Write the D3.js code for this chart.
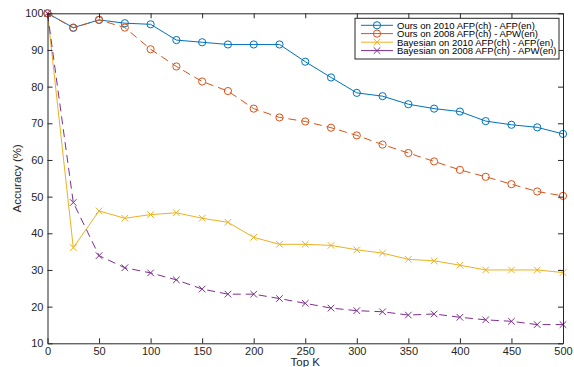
<!DOCTYPE html>
<html><head><meta charset="utf-8">
<script src="https://cdn.jsdelivr.net/npm/d3@7"></script>
<style>body{margin:0;background:#fff;}svg{display:block;font-family:"Liberation Sans",Arial,sans-serif;}</style>
</head><body><svg id="c" width="574" height="367"></svg>
<script>
const topK = [0,25,50,75,100,125,150,175,200,225,250,275,300,325,350,375,400,425,450,475,500];
const ours2010 = [100,96.1,98.2,97.3,97,92.7,92.1,91.5,91.5,91.5,86.8,82.5,78.3,77.4,75.2,74,73.2,70.6,69.6,68.9,67.1];
const ours2008 = [100,96,98.2,96.1,90.2,85.5,81.4,78.8,74,71.6,70.5,68.8,66.7,64.2,61.9,59.6,57.3,55.4,53.4,51.4,50.2];
const bayes2010 = [100,36.1,46.1,44.1,45.1,45.6,44.1,43,38.9,37,37,36.7,35.5,34.6,32.9,32.5,31.3,30,30,30,29.3];
const bayes2008 = [100,48.4,33.9,30.6,29.2,27.3,24.8,23.4,23.4,22.2,20.9,19.6,18.9,18.6,17.7,18,17.1,16.4,16,15.1,15.1];
const seriesNames = ["Ours on 2010 AFP(ch) - AFP(en)","Ours on 2008 AFP(ch) - APW(en)","Bayesian on 2010 AFP(ch) - AFP(en)","Bayesian on 2008 AFP(ch) - APW(en)"];
const xTicks = [0,50,100,150,200,250,300,350,400,450,500];
const yTicks = [10,20,30,40,50,60,70,80,90,100];

const series = [
  {name: seriesNames[0], values: ours2010, color:"#0072BD", dash:null, marker:"o"},
  {name: seriesNames[1], values: ours2008, color:"#D95319", dash:"8,5", marker:"o"},
  {name: seriesNames[2], values: bayes2010, color:"#EDB120", dash:null, marker:"x"},
  {name: seriesNames[3], values: bayes2008, color:"#7E2F8E", dash:"8,5", marker:"x"}
];

const svg = d3.select("#c");
const L=47.5, R=563, T=13.3, B=343.3;
const x = d3.scaleLinear().domain([0,500]).range([L,R]);
const y = d3.scaleLinear().domain([10,100]).range([B,T]);
const axCol = "#262626";

const line = d3.line().x((d,i)=>x(topK[i])).y(d=>y(d));
series.forEach(s=>{
  svg.append("path").datum(s.values).attr("d",line).attr("fill","none")
    .attr("stroke",s.color).attr("stroke-width",1).attr("stroke-dasharray",s.dash);
});
function drawMarker(g, cx, cy, s){
  if(s.marker==="o"){
    g.append("circle").attr("cx",cx).attr("cy",cy).attr("r",3.6).attr("fill","none").attr("stroke",s.color).attr("stroke-width",1);
  } else {
    const r=3.3;
    g.append("path").attr("d",`M${cx-r},${cy-r}L${cx+r},${cy+r}M${cx-r},${cy+r}L${cx+r},${cy-r}`).attr("stroke",s.color).attr("stroke-width",1).attr("fill","none");
  }
}
series.forEach(s=>{
  const g = svg.append("g");
  s.values.forEach((v,i)=>drawMarker(g,x(topK[i]),y(v),s));
});

// axes
const tl=5;
const gx = svg.append("g").attr("transform",`translate(0,${B})`)
  .call(d3.axisBottom(x).tickValues(xTicks).tickSizeInner(-tl).tickSizeOuter(0).tickPadding(4));
const gy = svg.append("g").attr("transform",`translate(${L},0)`)
  .call(d3.axisLeft(y).tickValues(yTicks).tickSizeInner(-tl).tickSizeOuter(0).tickPadding(4));
const gt = svg.append("g").attr("transform",`translate(0,${T})`)
  .call(d3.axisTop(x).tickValues(xTicks).tickSizeInner(-tl).tickSizeOuter(0).tickFormat(""));
const gr = svg.append("g").attr("transform",`translate(${R},0)`)
  .call(d3.axisRight(y).tickValues(yTicks).tickSizeInner(-tl).tickSizeOuter(0).tickFormat(""));
[gx,gy,gt,gr].forEach(g=>{
  g.selectAll("path,line").attr("stroke",axCol).attr("stroke-width",1);
  g.selectAll("text").attr("fill",axCol).style("font-size","11px").style("font-family","Liberation Sans, Arial, sans-serif");
});
gx.selectAll("text").attr("dy","0.7em");

svg.append("text").attr("x",(L+R)/2).attr("y",366).attr("text-anchor","middle")
  .attr("fill",axCol).style("font-size","11.5px").text("Top K");
svg.append("text").attr("transform",`translate(21,${(T+B)/2}) rotate(-90)`).attr("text-anchor","middle")
  .attr("fill",axCol).style("font-size","11.5px").text("Accuracy (%)");

// legend
const lg = svg.append("g");
const lx=355, ly=18.3, lw=204, lh=40.7;
lg.append("rect").attr("x",lx).attr("y",ly).attr("width",lw).attr("height",lh).attr("fill","#fff").attr("stroke",axCol).attr("stroke-width",1);
const rowY=[25.3,33.6,42.2,50.6];
series.forEach((s,i)=>{
  const yy=rowY[i];
  lg.append("line").attr("x1",361).attr("x2",393).attr("y1",yy).attr("y2",yy).attr("stroke",s.color).attr("stroke-width",1);
  drawMarker(lg,377,yy,s);
  lg.append("text").attr("x",397).attr("y",yy).attr("dy","0.35em").attr("fill","#000").style("font-size","9.5px").text(s.name);
});
</script></body></html>
